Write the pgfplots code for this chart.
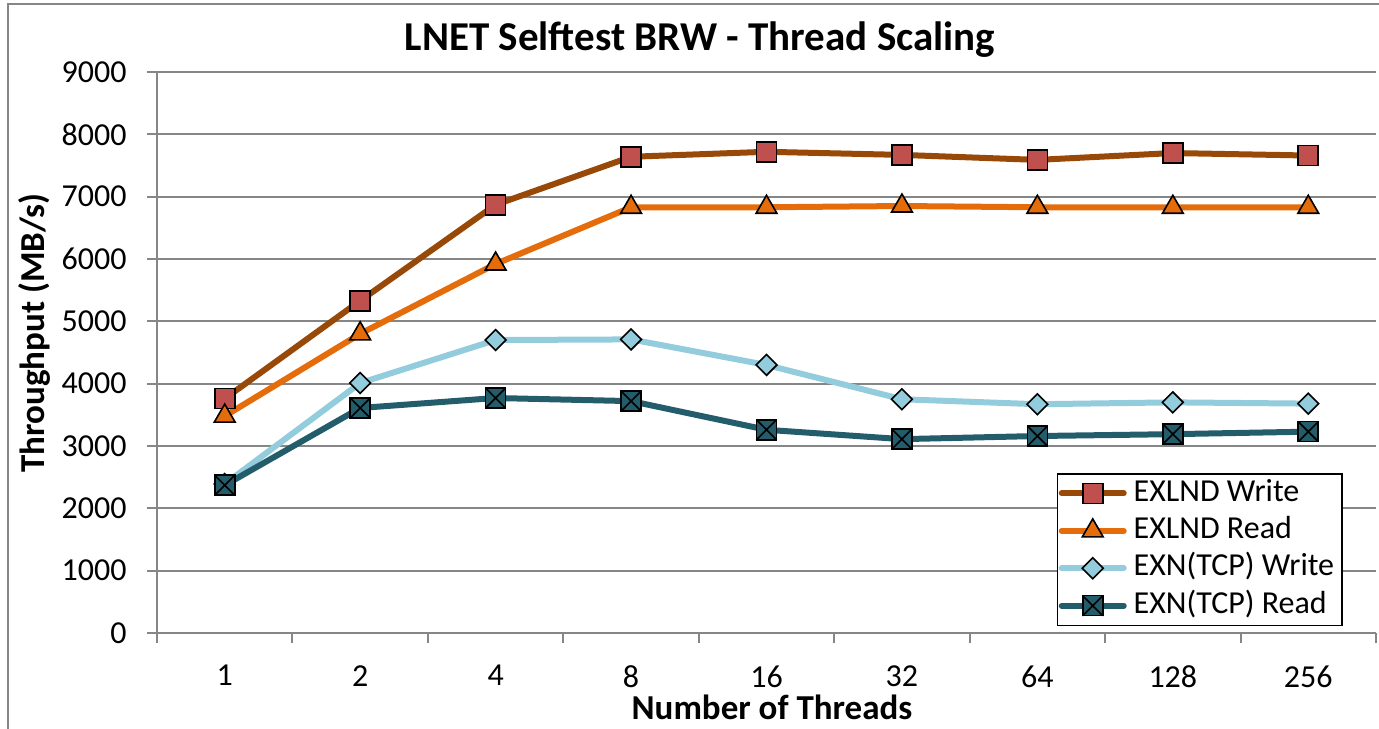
\documentclass[border=0pt]{standalone}
\usepackage{pgfplots}
\pgfplotsset{compat=1.18}
\usepackage{fontspec}
\setmainfont{Carlito}

\definecolor{gridgray}{HTML}{868686}
\definecolor{cWline}{HTML}{984807}
\definecolor{cWmark}{HTML}{C0504D}
\definecolor{cRead}{HTML}{E46C0A}
\definecolor{cTW}{HTML}{93CDDD}
\definecolor{cTR}{HTML}{235C6B}

\pgfdeclareplotmark{xsquare}{%
  \pgfpathrectangle{\pgfqpoint{-\pgfplotmarksize}{-\pgfplotmarksize}}{\pgfqpoint{2\pgfplotmarksize}{2\pgfplotmarksize}}%
  \pgfusepathqfillstroke
  \pgfpathmoveto{\pgfqpoint{-\pgfplotmarksize}{-\pgfplotmarksize}}%
  \pgfpathlineto{\pgfqpoint{\pgfplotmarksize}{\pgfplotmarksize}}%
  \pgfpathmoveto{\pgfqpoint{-\pgfplotmarksize}{\pgfplotmarksize}}%
  \pgfpathlineto{\pgfqpoint{\pgfplotmarksize}{-\pgfplotmarksize}}%
  \pgfusepathqstroke}
\pgfdeclareplotmark{rdiamond}{%
  \pgfpathmoveto{\pgfqpoint{0pt}{\pgfplotmarksize}}%
  \pgfpathlineto{\pgfqpoint{\pgfplotmarksize}{0pt}}%
  \pgfpathlineto{\pgfqpoint{0pt}{-\pgfplotmarksize}}%
  \pgfpathlineto{\pgfqpoint{-\pgfplotmarksize}{0pt}}%
  \pgfpathclose
  \pgfusepathqfillstroke}

\begin{document}
\begin{tikzpicture}
\useasboundingbox (0pt,0pt) rectangle (689.5pt,364pt);
\draw[gridgray, line width=1pt] (4pt,-20pt) rectangle (710pt,362pt);
\begin{axis}[
  at={(78.5pt,47.5pt)}, anchor=south west,
  scale only axis, width=609.5pt, height=280.5pt,
  xmin=-0.5, xmax=8.5, ymin=0, ymax=9000,
  xtick={0,...,8}, xticklabels={1,2,4,8,16,32,64,128,256},
  minor xtick={-0.5,0.5,...,8.5},
  ytick={0,1000,...,9000},
  scaled y ticks=false,
  /pgf/number format/1000 sep={},
  /pgf/number format/assume math mode=true,
  axis x line*=bottom, axis y line*=left,
  axis line style={gridgray, line width=1pt, -},
  ymajorgrids, grid style={gridgray, line width=1pt},
  tick align=outside,
  major tick length=5pt, minor tick length=5pt,
  major x tick style={draw=none},
  minor x tick style={draw=gridgray, line width=1pt},
  ytick style={draw=gridgray, line width=1pt},
  ticklabel style={font=\fontsize{16}{19}\selectfont},
  yticklabel style={inner sep=0pt, xshift=-10pt},
  xticklabel style={inner sep=0pt, yshift=-11pt},
  legend style={at={(axis description cs:0.7383,0.2852)}, anchor=north west,
    draw=black, line width=0.75pt, fill=white,
    font=\fontsize{16}{19}\selectfont, inner sep=0.5pt, row sep=0pt,
    nodes={inner ysep=1.2pt, inner xsep=3.5pt, text height=12pt, text depth=4.3pt},
    cells={anchor=west}},
  legend image code/.code={\draw[mark repeat=2,mark phase=2,line cap=round,#1] plot coordinates {(0pt,0pt) (15.5pt,0pt) (31pt,0pt)};},
]
\addplot[color=cWline, line width=3pt, mark=square*, mark size=5pt,
  mark options={fill=cWmark, draw=black, line width=0.8pt, solid}]
  coordinates {(0,3760) (1,5330) (2,6870) (3,7640) (4,7720) (5,7670) (6,7590) (7,7700) (8,7660)};
\addlegendentry{EXLND Write}
\addplot[color=cRead, line width=3pt, mark=triangle*, mark size=6pt,
  mark options={fill=cRead, draw=black, line width=0.8pt, solid}]
  coordinates {(0,3480) (1,4800) (2,5920) (3,6830) (4,6830) (5,6850) (6,6830) (7,6830) (8,6830)};
\addlegendentry{EXLND Read}
\addplot[color=cTW, line width=3pt, mark=rdiamond, mark size=5.2pt,
  mark options={fill=cTW, draw=black, line width=0.8pt, solid}]
  coordinates {(0,2390) (1,4010) (2,4700) (3,4710) (4,4300) (5,3750) (6,3670) (7,3700) (8,3680)};
\addlegendentry{EXN(TCP) Write}
\addplot[color=cTR, line width=3pt, mark=xsquare, mark size=5pt,
  mark options={fill=cTR, draw=black, line width=0.8pt, solid}]
  coordinates {(0,2370) (1,3610) (2,3770) (3,3720) (4,3260) (5,3110) (6,3160) (7,3190) (8,3230)};
\addlegendentry{EXN(TCP) Read}
\end{axis}
\node[font=\fontsize{20.5}{24}\selectfont\bfseries, anchor=base] at (350pt,338.5pt) {LNET Selftest BRW - Thread Scaling};
\node[font=\fontsize{17.5}{21}\selectfont\bfseries, anchor=base] at (386pt,4.5pt) {Number of Threads};
\node[font=\fontsize{17.5}{21}\selectfont\bfseries, anchor=base, rotate=90] at (22pt,197.5pt) {Throughput (MB/s)};
\end{tikzpicture}
\end{document}
